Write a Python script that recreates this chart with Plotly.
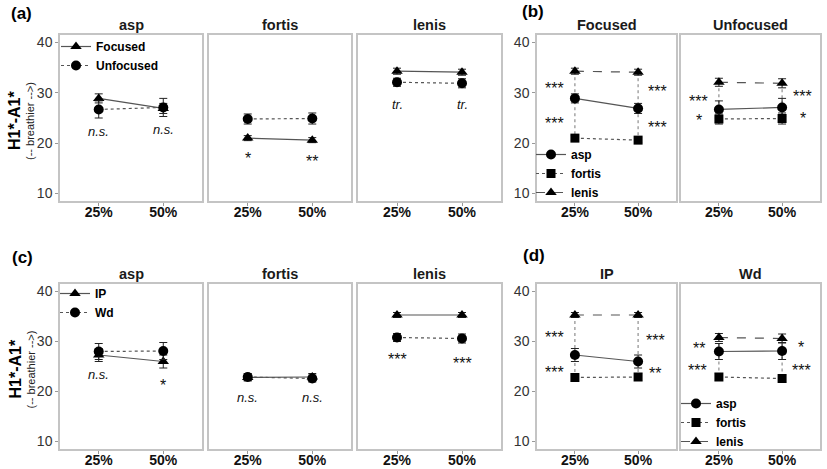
import plotly.graph_objects as go

W, H = 827, 469

# ---------------- data ----------------
timepoints = ["25%", "50%"]
tick_pos = [1, 2]
consonants = ["asp", "fortis", "lenis"]

# (a)/(b) focus condition: means and error half-widths
focused_asp = [28.9, 26.9]
focused_asp_err = [0.9, 1.0]
focused_fortis = [21.0, 20.6]
focused_fortis_err = [0.5, 0.5]
focused_lenis = [34.3, 34.1]
focused_lenis_err = [0.6, 0.6]
unfocused_asp = [26.7, 27.1]
unfocused_asp_err = [1.7, 1.8]
unfocused_fortis = [24.8, 24.9]
unfocused_fortis_err = [1.0, 1.1]
unfocused_lenis = [32.1, 31.9]
unfocused_lenis_err = [0.8, 0.9]

# (c)/(d) prosodic position
ip_asp = [27.3, 26.0]
ip_asp_err = [1.3, 1.3]
ip_fortis = [22.8, 22.9]
ip_fortis_err = [0.7, 0.7]
ip_lenis = [35.3, 35.3]
ip_lenis_err = [0.5, 0.5]
wd_asp = [28.0, 28.1]
wd_asp_err = [1.6, 1.7]
wd_fortis = [22.9, 22.6]
wd_fortis_err = [0.7, 0.7]
wd_lenis = [30.8, 30.6]
wd_lenis_err = [0.8, 0.9]

# significance labels: (text, x position, y position)
sig_a = [
    [("n.s.", 1, 22.3), ("n.s.", 2, 22.8)],
    [("*", 1, 17.8), ("**", 2, 17.2)],
    [("tr.", 1, 27.6), ("tr.", 2, 27.6)],
]
sig_b = [
    [("***", 0.67, 31.6), ("***", 0.67, 24.8), ("***", 2.3, 31.1), ("***", 2.3, 23.9)],
    [("***", 0.68, 29.1), ("*", 0.68, 25.3), ("***", 2.33, 30.1), ("*", 2.33, 25.6)],
]
sig_c = [
    [("n.s.", 1, 23.4), ("*", 2, 22.1)],
    [("n.s.", 1, 18.9), ("n.s.", 2, 18.9)],
    [("***", 1, 27.3), ("***", 2, 26.5)],
]
sig_d = [
    [("***", 0.67, 31.7), ("***", 0.67, 24.6), ("***", 2.27, 31.1), ("**", 2.27, 24.5)],
    [("**", 0.68, 29.5), ("***", 0.66, 25.1), ("*", 2.3, 29.6), ("***", 2.3, 25.1)],
]

y_ticks = [10, 20, 30, 40]

# ---------------- layout helpers ----------------
FONT = "Liberation Sans, Arial, sans-serif"
LINE_COL = "#555555"
BORDER = "#c4c4c4"


def px(x):
    return x / W


def py(y):
    return 1 - y / H


cols_left = [(60, 202), (209, 351), (358, 501)]
cols_right = [(537, 676), (681, 820)]
rows = [(35, 201), (284, 449)]

fig = go.Figure()
layout = dict(
    width=W, height=H, margin=dict(l=0, r=0, t=0, b=0, autoexpand=False),
    paper_bgcolor="white", plot_bgcolor="white",
    font=dict(family=FONT, color="black"),
    annotations=[],
)


def ax_names(n):
    s = "" if n == 1 else str(n)
    return "x" + s, "y" + s, "xaxis" + s, "yaxis" + s


def add_axes(n, xpix, ypix, show_y):
    xr, yr, xk, yk = ax_names(n)
    layout[xk] = dict(
        domain=[px(xpix[0]), px(xpix[1])], range=[0.4, 2.6], anchor=yr,
        tickvals=tick_pos, ticktext=timepoints, showgrid=False, zeroline=False,
        showline=True, mirror=True, linecolor=BORDER, linewidth=1.5,
        ticks="outside", ticklen=3, tickcolor="#999999", automargin=False,
        ticklabelstandoff=-6,
        tickfont=dict(size=14, color="#111111", weight="bold"),
    )
    layout[yk] = dict(
        domain=[py(ypix[1]), py(ypix[0])], range=[8.5, 41.5], anchor=xr,
        tickvals=y_ticks, showgrid=False, zeroline=False,
        showline=True, mirror=True, linecolor=BORDER, linewidth=1.5,
        ticks="outside" if show_y else "", ticklen=3, tickcolor="#999999",
        showticklabels=show_y, automargin=False,
        tickfont=dict(size=14, color="#333333"),
    )


def strip(title, xpix, ytop):
    layout["annotations"].append(dict(
        text=title, xref="paper", yref="paper", x=px((xpix[0] + xpix[1]) / 2),
        y=py(ytop - 10), xanchor="center", yanchor="middle", showarrow=False,
        font=dict(size=14.5, color="#1a1a1a", weight="bold"),
    ))


def sig(n, items):
    xr, yr, _, _ = ax_names(n)
    for text, x, y in items:
        italic = not text.startswith("*")
        layout["annotations"].append(dict(
            text=f"<i>{text}</i>" if italic else text, xref=xr, yref=yr,
            x=x, y=y, showarrow=False, xanchor="center", yanchor="middle",
            yshift=0 if italic else -4,
            font=dict(size=13 if italic else 16, color="#111111"),
        ))


def series(n, y, err, name, symbol, dash, legend, showlegend, size=10):
    xr, yr, _, _ = ax_names(n)
    fig.add_trace(go.Scatter(
        x=tick_pos, y=y, xaxis=xr, yaxis=yr, name=name, mode="lines+markers",
        error_y=dict(type="data", array=err, color="#222222", thickness=1, width=4),
        marker=dict(symbol=symbol, size=size, color="black"),
        line=dict(color=LINE_COL, width=1.2, dash=dash),
        legend=legend, legendgroup=legend + name, showlegend=showlegend,
    ))


def connectors(n, top, bottom):
    xr, yr, _, _ = ax_names(n)
    for i, xv in enumerate(tick_pos):
        fig.add_trace(go.Scatter(
            x=[xv, xv], y=[top[i], bottom[i]], xaxis=xr, yaxis=yr, mode="lines",
            line=dict(color="#777777", width=1, dash="dot"), showlegend=False,
            hoverinfo="skip",
        ))


# ---------------- panel (a) ----------------
focused = [(focused_asp, focused_asp_err), (focused_fortis, focused_fortis_err), (focused_lenis, focused_lenis_err)]
unfocused = [(unfocused_asp, unfocused_asp_err), (unfocused_fortis, unfocused_fortis_err), (unfocused_lenis, unfocused_lenis_err)]
for i, c in enumerate(consonants):
    n = i + 1
    add_axes(n, cols_left[i], rows[0], i == 0)
    strip(c, cols_left[i], rows[0][0])
    series(n, *focused[i], "Focused", "triangle-up", "solid", "legend", i == 0)
    series(n, *unfocused[i], "Unfocused", "circle", "dot", "legend", i == 0)
    sig(n, sig_a[i])

# ---------------- panel (b) ----------------
for j, (title, grp) in enumerate([("Focused", focused), ("Unfocused", unfocused)]):
    n = 4 + j
    add_axes(n, cols_right[j], rows[0], j == 0)
    strip(title, cols_right[j], rows[0][0])
    connectors(n, grp[2][0], grp[1][0])
    series(n, *grp[0], "asp", "circle", "solid", "legend2", j == 0)
    series(n, *grp[1], "fortis", "square", "dot", "legend2", j == 0, size=9)
    series(n, *grp[2], "lenis", "triangle-up", "dash", "legend2", j == 0)
    sig(n, sig_b[j])

# ---------------- panel (c) ----------------
ip = [(ip_asp, ip_asp_err), (ip_fortis, ip_fortis_err), (ip_lenis, ip_lenis_err)]
wd = [(wd_asp, wd_asp_err), (wd_fortis, wd_fortis_err), (wd_lenis, wd_lenis_err)]
for i, c in enumerate(consonants):
    n = 6 + i
    add_axes(n, cols_left[i], rows[1], i == 0)
    strip(c, cols_left[i], rows[1][0])
    series(n, *ip[i], "IP", "triangle-up", "solid", "legend3", i == 0)
    series(n, *wd[i], "Wd", "circle", "dot", "legend3", i == 0)
    sig(n, sig_c[i])

# ---------------- panel (d) ----------------
for j, (title, grp) in enumerate([("IP", ip), ("Wd", wd)]):
    n = 9 + j
    add_axes(n, cols_right[j], rows[1], j == 0)
    strip(title, cols_right[j], rows[1][0])
    connectors(n, grp[2][0], grp[1][0])
    series(n, *grp[0], "asp", "circle", "solid", "legend4", j == 1)
    series(n, *grp[1], "fortis", "square", "dot", "legend4", j == 1, size=9)
    series(n, *grp[2], "lenis", "triangle-up", "dash", "legend4", j == 1)
    sig(n, sig_d[j])

# ---------------- legends ----------------
leg_common = dict(xanchor="left", yanchor="top", bgcolor="rgba(0,0,0,0)",
                  font=dict(size=12, color="black", weight="bold"),
                  itemwidth=30, traceorder="normal", tracegroupgap=0)
layout["legend"] = dict(x=px(56), y=py(32), **leg_common)
layout["legend2"] = dict(x=px(531), y=py(140), **leg_common)
layout["legend3"] = dict(x=px(55), y=py(279), **leg_common)
layout["legend4"] = dict(x=px(676), y=py(389), **leg_common)

# ---------------- panel labels & y titles ----------------
for lab, x, y in [("(a)", 21, 13), ("(b)", 533, 11), ("(c)", 22, 257), ("(d)", 534, 255)]:
    layout["annotations"].append(dict(
        text=lab, xref="paper", yref="paper", x=px(x), y=py(y), showarrow=False,
        xanchor="center", yanchor="middle", font=dict(size=17, weight="bold"),
    ))
for r in rows:
    yc = (r[0] + r[1]) / 2 + 3
    layout["annotations"].append(dict(
        text="H1*-A1*", xref="paper", yref="paper", x=px(15), y=py(yc), textangle=-90,
        showarrow=False, xanchor="center", yanchor="middle",
        font=dict(size=16, weight="bold"),
    ))
    layout["annotations"].append(dict(
        text="(-- breathier -->)", xref="paper", yref="paper", x=px(30), y=py(yc),
        textangle=-90, showarrow=False, xanchor="center", yanchor="middle",
        font=dict(size=11, color="#222222"),
    ))

fig.update_layout(**layout)
# remove the browser's default 8px page margin so the figure fills the window
fig.write_html("out.html", config={"displayModeBar": False},
               post_script="document.body.style.margin='0';")
